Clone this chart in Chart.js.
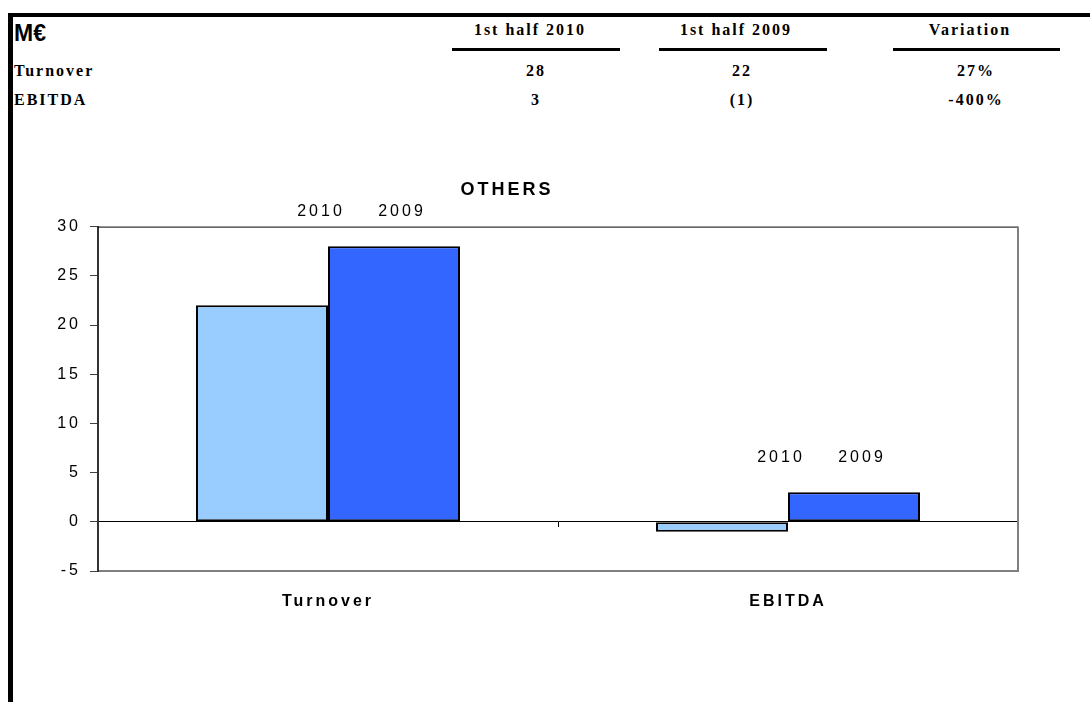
<!DOCTYPE html>
<html>
<head>
<meta charset="utf-8">
<script src="https://cdn.jsdelivr.net/npm/chart.js@4.4.0/dist/chart.umd.min.js"></script>
<style>
  html, body { margin: 0; padding: 0; background: #fff; }
  body { width: 1090px; height: 702px; overflow: hidden; position: relative; }
  #frame { position: absolute; left: 8px; top: 13px; right: 0; bottom: 0;
           border-top: 4px solid #000; border-left: 5px solid #000; }
  .t { position: absolute; white-space: nowrap; color: #000;
       font: bold 16px "Liberation Serif", "Times New Roman", serif; letter-spacing: 2px;
       transform: translate(-50%, -50%); }
  .l { transform: translate(0, -50%); }
  .unit { font: bold 23px Arial, "Liberation Sans", sans-serif; letter-spacing: 0; }
  .rule { position: absolute; height: 3px; background: #000; }
  #wrap { position: absolute; left: -4px; top: 160px; width: 1030px; height: 542px; }
</style>
</head>
<body>
<div id="frame"></div>
<div id="table"></div>
<div id="wrap"><canvas id="othersChart" width="1030" height="542"></canvas></div>
<script>
// table above the chart
const tableUnit = "M€";
const tableHeads = ["1st half 2010", "1st half 2009", "Variation"];
const tableRowNames = ["Turnover", "EBITDA"];
const tableValues = [
  ["28", "22", "27%"],
  ["3", "(1)", "-400%"],
];

// chart
const categories = ["Turnover", "EBITDA"];
const seriesNames = ["2010", "2009"];
const values2010 = [22, -1];
const values2009 = [28, 3];
const yMin = -5, yMax = 30, yStep = 5;

// table layout
const colX = [536, 742, 976];
const rules = [[452, 620], [659, 827], [893, 1060]];
const headY = 30, rowY = [71, 100];
const tbl = document.getElementById("table");
function addText(txt, x, y, cls) {
  const d = document.createElement("div");
  d.className = "t " + (cls || "");
  d.textContent = txt;
  d.style.left = x + "px";
  d.style.top = y + "px";
  tbl.appendChild(d);
}
addText(tableUnit, 14, 33, "l unit");
tableHeads.forEach((h, i) => {
  addText(h, colX[i] - 6, headY);
  const r = document.createElement("div");
  r.className = "rule";
  r.style.left = rules[i][0] + "px";
  r.style.top = "48px";
  r.style.width = rules[i][1] - rules[i][0] + "px";
  tbl.appendChild(r);
});
tableRowNames.forEach((n, j) => {
  addText(n, 14, rowY[j], "l");
  tableValues[j].forEach((v, i) => addText(v, colX[i], rowY[j]));
});

const FONT = 'Arial, "Liberation Sans", sans-serif';
const labelShift = [59, 8];

const plotExtras = {
  id: "plotExtras",
  beforeDraw(chart) {
    chart.ctx.letterSpacing = "3px";
  },
  beforeDatasetsDraw(chart) {
    const { ctx, chartArea: a } = chart;
    ctx.save();
    ctx.lineWidth = 1;
    ctx.strokeStyle = "#000";
    ctx.beginPath();
    ctx.moveTo(a.left, a.top + 0.5);
    ctx.lineTo(a.right, a.top + 0.5);
    ctx.stroke();
    ctx.lineWidth = 2;
    ctx.strokeStyle = "#808080";
    ctx.beginPath();
    ctx.moveTo(a.right, a.top);
    ctx.lineTo(a.right, a.bottom);
    ctx.stroke();
    ctx.restore();
  },
  afterDatasetsDraw(chart) {
    const ctx = chart.ctx;
    const metas = chart.data.datasets.map((d, i) => chart.getDatasetMeta(i));
    ctx.save();
    ctx.font = "16px " + FONT;
    ctx.fillStyle = "#000";
    ctx.textAlign = "center";
    ctx.textBaseline = "middle";
    categories.forEach((c, j) => {
      const top = Math.min(...metas.map((m) => Math.min(m.data[j].y, m.data[j].base)));
      metas.forEach((m, i) =>
        ctx.fillText(chart.data.datasets[i].label, m.data[j].x + labelShift[i], top - 35)
      );
    });
    ctx.restore();
  },
};

const ctx = document.getElementById("othersChart").getContext("2d");
new Chart(ctx, {
  type: "bar",
  data: {
    labels: categories,
    datasets: [
      {
        label: seriesNames[0],
        data: values2010,
        backgroundColor: "#99ccff",
        borderColor: "#000",
        borderWidth: 2,
        borderSkipped: false,
      },
      {
        label: seriesNames[1],
        data: values2009,
        backgroundColor: "#3366ff",
        borderColor: "#000",
        borderWidth: 2,
        borderSkipped: false,
      },
    ],
  },
  options: {
    responsive: false,
    devicePixelRatio: 1,
    animation: false,
    layout: { padding: { left: 0, right: 8, top: 0, bottom: 71 } },
    datasets: { bar: { categoryPercentage: 0.574, barPercentage: 1 } },
    plugins: {
      legend: { display: false },
      tooltip: { enabled: false },
      title: {
        display: true,
        text: "OTHERS",
        color: "#000",
        font: { family: FONT, size: 18, weight: "bold" },
        padding: { top: 19, bottom: 26 },
      },
    },
    scales: {
      x: {
        grid: { display: false },
        border: { display: true, color: "#808080", width: 2 },
        ticks: { color: "#000", padding: 13, font: { family: FONT, size: 16, weight: "bold" } },
        afterFit: (s) => { s.height = 60; },
      },
      x2: {
        type: "category",
        position: { y: 0 },
        offset: true,
        grid: { display: true, offset: true, drawOnChartArea: false, tickLength: 5, color: "#000" },
        border: { display: true, color: "#000", width: 1 },
        ticks: { display: false },
      },
      y: {
        min: yMin,
        max: yMax,
        ticks: { stepSize: yStep, color: "#000", padding: 9, font: { family: FONT, size: 16 } },
        grid: { drawOnChartArea: false, tickLength: 8, color: "#404040" },
        border: { display: true, color: "#333", width: 2 },
        afterFit: (s) => { s.width = 102; },
      },
    },
  },
  plugins: [plotExtras],
});
</script>
</body>
</html>
